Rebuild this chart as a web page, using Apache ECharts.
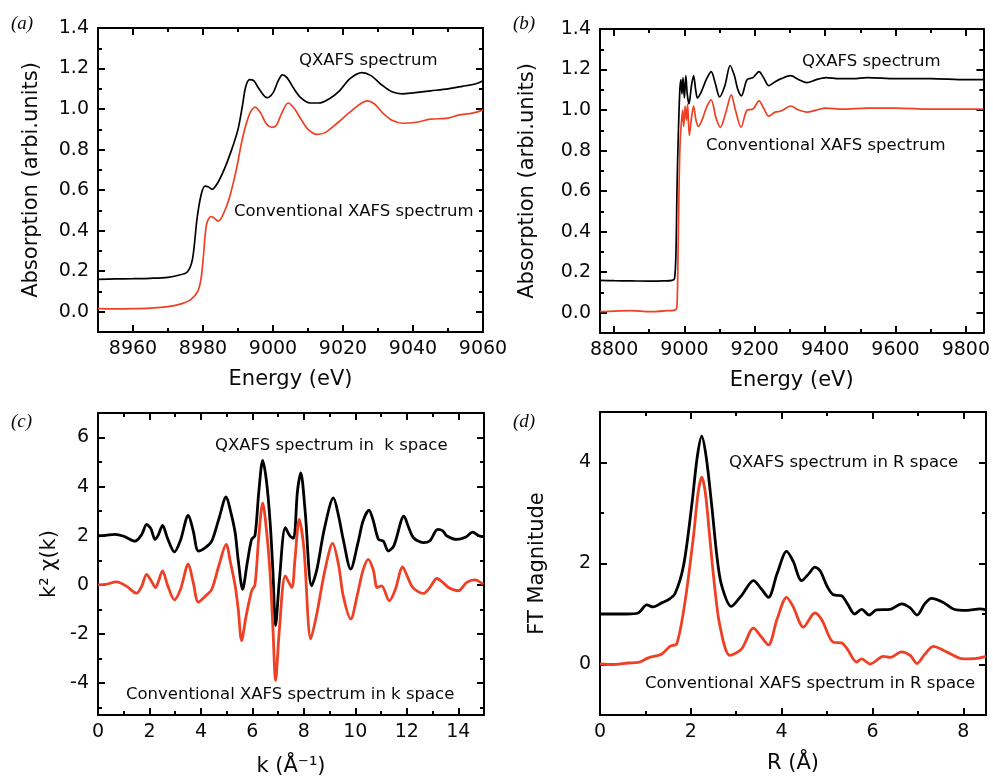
<!DOCTYPE html>
<html>
<head>
<meta charset="utf-8">
<script src="https://cdn.jsdelivr.net/npm/echarts@6/dist/echarts.min.js"></script>
<style>
  html, body { margin: 0; padding: 0; background: #fff; }
  #chart { width: 993px; height: 780px; }
</style>
</head>
<body>
<div id="chart"></div>
<script>
// ---- (a) XANES region: energy (eV) and normalised absorption ----
const aEnergyQ = [8950, 8955, 8960, 8965, 8970, 8973, 8975.5, 8977, 8978.3, 8979.5, 8980.6, 8981.6, 8982.6, 8984, 8986, 8988, 8990, 8991.3, 8992.2, 8993.3, 8994.5, 8996, 8998.3, 9000, 9001.5, 9002.7, 9004, 9006, 9008, 9010.6, 9013, 9016, 9019, 9022, 9025.4, 9028, 9031, 9034, 9037, 9040, 9045, 9050, 9055, 9058, 9060];
const aMuQ      = [0.160, 0.162, 0.163, 0.165, 0.170, 0.180, 0.196, 0.26, 0.46, 0.58, 0.62, 0.615, 0.604, 0.63, 0.70, 0.79, 0.90, 1.02, 1.11, 1.145, 1.14, 1.10, 1.056, 1.08, 1.14, 1.169, 1.155, 1.10, 1.055, 1.03, 1.03, 1.05, 1.09, 1.15, 1.18, 1.165, 1.12, 1.085, 1.075, 1.08, 1.09, 1.10, 1.115, 1.125, 1.14];
const aEnergyC = [8950, 8955, 8960, 8965, 8970, 8974, 8976.5, 8978.5, 8979.5, 8980.2, 8981, 8982.2, 8983, 8984.3, 8985.5, 8987.5, 8989.5, 8991.4, 8993.4, 8994.9, 8996.5, 8998, 8999.7, 9001, 9002.5, 9004.3, 9006, 9008, 9010, 9012.6, 9015, 9018.3, 9022, 9026.9, 9029, 9031.4, 9034, 9037.1, 9041, 9045, 9050, 9053, 9057, 9060];
const aMuC      = [0.015, 0.014, 0.015, 0.018, 0.025, 0.04, 0.06, 0.10, 0.17, 0.29, 0.43, 0.47, 0.465, 0.447, 0.47, 0.56, 0.70, 0.865, 0.98, 1.01, 0.98, 0.93, 0.91, 0.92, 0.98, 1.03, 1.005, 0.95, 0.90, 0.875, 0.885, 0.93, 0.985, 1.04, 1.025, 0.98, 0.945, 0.93, 0.935, 0.95, 0.955, 0.97, 0.98, 0.995];

// ---- (b) full XAFS range ----
const bEnergyQ = [8760, 8800, 8850, 8900, 8940, 8965, 8972, 8976, 8979, 8983, 8987, 8990, 8993, 8996, 9000, 9004, 9008, 9013, 9020, 9026, 9032, 9037, 9048, 9062, 9076, 9088, 9100, 9115, 9130, 9142, 9152, 9162, 9178, 9195, 9212, 9225, 9240, 9258, 9275, 9302, 9325, 9348, 9375, 9402, 9440, 9480, 9520, 9600, 9700, 9800, 9850];
const bMuQ      = [0.160, 0.158, 0.157, 0.156, 0.157, 0.160, 0.17, 0.30, 0.62, 0.90, 1.10, 1.15, 1.08, 1.16, 1.06, 1.17, 1.08, 1.03, 1.12, 1.17, 1.10, 1.06, 1.09, 1.15, 1.19, 1.13, 1.065, 1.12, 1.22, 1.17, 1.10, 1.07, 1.15, 1.16, 1.19, 1.16, 1.12, 1.14, 1.155, 1.17, 1.15, 1.135, 1.15, 1.16, 1.155, 1.155, 1.16, 1.155, 1.155, 1.15, 1.15];
const bEnergyC = [8760, 8800, 8850, 8900, 8950, 8975, 8979, 8982, 8985, 8988, 8992, 8995, 8998, 9002, 9006, 9009, 9014, 9020, 9026, 9033, 9040, 9050, 9062, 9076, 9090, 9102, 9118, 9133, 9145, 9161, 9178, 9195, 9212, 9225, 9240, 9258, 9275, 9302, 9325, 9348, 9375, 9402, 9450, 9520, 9600, 9700, 9800, 9850];
const bMuC      = [0.005, 0.008, 0.01, 0.005, 0.01, 0.015, 0.04, 0.30, 0.65, 0.85, 0.95, 1.0, 0.92, 1.02, 0.95, 1.03, 0.875, 0.96, 1.02, 0.95, 0.92, 0.95, 1.01, 1.05, 0.96, 0.915, 0.99, 1.075, 1.0, 0.915, 1.0, 1.005, 1.045, 1.01, 0.97, 0.99, 0.995, 1.02, 1.0, 0.99, 1.0, 1.01, 1.005, 1.01, 1.01, 1.005, 1.005, 1.005];

// ---- (c) k^2-weighted EXAFS oscillations ----
const cKQ  = [0, 0.3, 0.66, 1.0, 1.44, 1.7, 1.89, 2.05, 2.22, 2.35, 2.51, 2.7, 2.97, 3.2, 3.51, 3.7, 3.9, 4.16, 4.42, 4.7, 4.98, 5.15, 5.33, 5.45, 5.62, 5.8, 5.97, 6.1, 6.25, 6.4, 6.55, 6.69, 6.8, 6.9, 7.05, 7.28, 7.46, 7.6, 7.75, 7.88, 8.05, 8.3, 8.5, 8.8, 9.15, 9.35, 9.53, 9.82, 10.1, 10.3, 10.53, 10.7, 10.9, 11.09, 11.28, 11.5, 11.89, 12.05, 12.26, 12.64, 12.9, 13.2, 13.4, 13.55, 13.94, 14.3, 14.56, 14.8, 15.0];
const cChiQ = [2.0, 2.02, 2.06, 1.98, 1.78, 2.05, 2.46, 2.3, 1.85, 2.05, 2.42, 1.9, 1.34, 1.8, 2.83, 2.2, 1.38, 1.51, 1.78, 2.7, 3.58, 3.0, 2.12, 1.0, -0.18, 0.9, 1.85, 2.0, 3.8, 5.07, 4.2, 2.53, 0.5, -1.66, 0.2, 2.33, 1.99, 1.9, 3.8, 4.56, 3.0, -0.04, 0.6, 2.3, 3.54, 2.8, 1.85, 0.64, 1.7, 2.6, 3.04, 2.6, 1.85, 1.78, 1.38, 1.6, 2.8, 2.4, 1.92, 1.72, 1.8, 2.26, 2.2, 2.0, 1.85, 1.95, 2.15, 2.0, 1.95];
const cKC  = [0, 0.3, 0.72, 1.1, 1.5, 1.7, 1.89, 2.05, 2.24, 2.35, 2.51, 2.7, 2.97, 3.2, 3.51, 3.7, 3.9, 4.16, 4.42, 4.7, 4.98, 5.15, 5.33, 5.45, 5.58, 5.75, 5.97, 6.1, 6.25, 6.4, 6.55, 6.69, 6.8, 6.9, 7.05, 7.28, 7.53, 7.65, 7.82, 8.0, 8.27, 8.5, 8.8, 9.12, 9.35, 9.53, 9.82, 10.1, 10.3, 10.5, 10.7, 10.85, 11.02, 11.32, 11.55, 11.84, 12.0, 12.23, 12.64, 12.9, 13.17, 13.4, 13.62, 14.0, 14.33, 14.65, 14.97];
const cChiC = [0.0, 0.02, 0.12, -0.05, -0.34, -0.05, 0.43, 0.2, -0.11, 0.15, 0.57, 0.0, -0.61, -0.2, 0.84, 0.1, -0.7, -0.47, -0.18, 0.8, 1.65, 0.9, -0.04, -1.0, -2.27, -1.3, -0.24, 0.0, 2.0, 3.34, 2.2, 0.43, -1.8, -3.9, -1.8, 0.37, -0.11, 1.0, 2.67, 1.5, -2.2, -1.2, 0.5, 1.69, 0.8, -0.45, -1.39, -0.3, 0.6, 1.04, 0.6, -0.11, -0.04, -0.65, -0.2, 0.73, 0.4, -0.1, -0.35, -0.1, 0.26, 0.1, -0.11, -0.24, 0.1, 0.2, 0.02];

// ---- (d) Fourier-transform magnitude in R space ----
const dRQ  = [0.0, 0.3, 0.6, 0.84, 1.03, 1.17, 1.36, 1.5, 1.65, 1.84, 2.02, 2.14, 2.24, 2.34, 2.46, 2.58, 2.68, 2.89, 3.12, 3.38, 3.55, 3.71, 3.9, 4.11, 4.25, 4.44, 4.6, 4.73, 4.85, 5.0, 5.14, 5.32, 5.45, 5.61, 5.76, 5.93, 6.09, 6.39, 6.64, 6.83, 6.98, 7.15, 7.3, 7.56, 7.78, 8.08, 8.37, 8.5];
const dFTQ = [1.0, 1.0, 1.0, 1.02, 1.18, 1.14, 1.22, 1.28, 1.4, 1.96, 3.15, 4.1, 4.52, 4.1, 3.15, 2.1, 1.56, 1.15, 1.37, 1.66, 1.5, 1.33, 1.8, 2.24, 2.05, 1.66, 1.8, 1.93, 1.85, 1.55, 1.38, 1.36, 1.2, 1.0, 1.09, 0.98, 1.08, 1.09, 1.2, 1.12, 0.98, 1.2, 1.31, 1.23, 1.1, 1.07, 1.1, 1.08];
const dRC  = [0.0, 0.3, 0.62, 0.84, 1.06, 1.36, 1.54, 1.69, 1.87, 2.06, 2.16, 2.24, 2.32, 2.42, 2.53, 2.64, 2.86, 3.12, 3.38, 3.55, 3.71, 3.9, 4.11, 4.25, 4.48, 4.73, 4.88, 5.14, 5.32, 5.45, 5.65, 5.76, 5.95, 6.24, 6.39, 6.64, 6.83, 6.98, 7.15, 7.34, 7.63, 8.0, 8.3, 8.5];
const dFTC = [0.01, 0.0, 0.03, 0.04, 0.13, 0.21, 0.36, 0.41, 1.23, 2.55, 3.4, 3.71, 3.4, 2.49, 1.5, 0.77, 0.18, 0.31, 0.72, 0.55, 0.39, 0.9, 1.33, 1.15, 0.74, 1.02, 0.89, 0.44, 0.43, 0.3, 0.05, 0.11, 0.01, 0.16, 0.14, 0.25, 0.18, 0.02, 0.2, 0.36, 0.25, 0.11, 0.12, 0.16];

// ---- tick positions ----
const aXMajor = [8960, 8980, 9000, 9020, 9040, 9060];
const aXMinor = [8950, 8970, 8990, 9010, 9030, 9050];
const bXMajor = [8800, 9000, 9200, 9400, 9600, 9800];
const bXMinor = [8900, 9100, 9300, 9500, 9700];
const muMajor = [0, 0.2, 0.4, 0.6, 0.8, 1.0, 1.2, 1.4];
const muMinor = [-0.1, 0.1, 0.3, 0.5, 0.7, 0.9, 1.1, 1.3];
const cXMajor = [0, 2, 4, 6, 8, 10, 12, 14];
const cXMinor = [1, 3, 5, 7, 9, 11, 13, 15];
const cYMajor = [-4, -2, 0, 2, 4, 6];
const cYMinor = [-5, -3, -1, 1, 3, 5, 7];
const dXMajor = [0, 2, 4, 6, 8];
const dXMinor = [1, 3, 5, 7];
const dYMajor = [0, 2, 4];
const dYMinor = [-1, 1, 3, 5];

// ---- text ----
const labelQ_E  = 'QXAFS spectrum';
const labelC_E  = 'Conventional XAFS spectrum';
const labelQ_k  = 'QXAFS spectrum in  k space';
const labelC_k  = 'Conventional XAFS spectrum in k space';
const labelQ_R  = 'QXAFS spectrum in R space';
const labelC_R  = 'Conventional XAFS spectrum in R space';

const BLACK = '#000000';
const RED = '#ee4024';
const FONT = 'DejaVu Sans';
const INK = '#0a0a0a';

function zip(xs, ys) { return xs.map((x, i) => [x, ys[i]]); }

const grids = [
  { left: 98,  top: 28,  width: 385, height: 304 },
  { left: 600, top: 29,  width: 385, height: 304 },
  { left: 98,  top: 413, width: 386, height: 302 },
  { left: 600, top: 412, width: 386, height: 303 }
];

const xAxes = [];
const yAxes = [];

// Builds one axis: the major layer carries the frame line, labels and long ticks;
// the minor layer only carries short inward ticks.
function makeAxis(grid, pos, a, primary, major) {
  const isY = pos === 'left' || pos === 'right';
  const ax = {
    type: 'value',
    gridIndex: grid,
    position: pos,
    min: a.min,
    max: a.max,
    axisLine: { show: major, onZero: false, lineStyle: { color: '#000', width: 2 } },
    axisTick: {
      show: true, inside: true, length: major ? 7 : 4,
      lineStyle: { color: '#000', width: 2 },
      customValues: major ? a.major : a.minor
    },
    axisLabel: {
      show: primary, customValues: a.major,
      formatter: a.fmt || (v => String(v)),
      margin: isY ? 9 : 8,
      fontFamily: FONT, fontSize: 19, color: INK
    },
    splitLine: { show: false },
    silent: true
  };
  if (primary && a.name) {
    ax.name = a.name;
    ax.nameLocation = 'middle';
    ax.nameGap = a.nameGap;
    ax.nameTextStyle = Object.assign({ fontFamily: FONT, fontSize: 21, color: INK }, a.nameStyle || {});
  }
  return ax;
}

function addPanel(grid, xa, ya) {
  const xi = xAxes.length, yi = yAxes.length;
  xAxes.push(makeAxis(grid, 'bottom', xa, true, true));
  xAxes.push(makeAxis(grid, 'bottom', xa, false, false));
  xAxes.push(makeAxis(grid, 'top', xa, false, true));
  xAxes.push(makeAxis(grid, 'top', xa, false, false));
  yAxes.push(makeAxis(grid, 'left', ya, true, true));
  yAxes.push(makeAxis(grid, 'left', ya, false, false));
  yAxes.push(makeAxis(grid, 'right', ya, false, true));
  yAxes.push(makeAxis(grid, 'right', ya, false, false));
  return { xi, yi };
}

const fix1 = v => v.toFixed(1);

const pa = addPanel(0,
  { min: 8950, max: 9060, major: aXMajor, minor: aXMinor, name: 'Energy (eV)', nameGap: 37 },
  { min: -0.1, max: 1.4, major: muMajor, minor: muMinor, fmt: fix1, name: 'Absorption (arbi.units)', nameGap: 56 });
const pb = addPanel(1,
  { min: 8760, max: 9850, major: bXMajor, minor: bXMinor, name: 'Energy (eV)', nameGap: 37 },
  { min: -0.1, max: 1.4, major: muMajor, minor: muMinor, fmt: fix1, name: 'Absorption (arbi.units)', nameGap: 62 });
const pc = addPanel(2,
  { min: 0, max: 15, major: cXMajor, minor: cXMinor, name: 'k (Å⁻¹)', nameGap: 41 },
  { min: -5.3, max: 7, major: cYMajor, minor: cYMinor, name: 'k² χ(k)', nameGap: 38 });
const pd = addPanel(3,
  { min: 0, max: 8.5, major: dXMajor, minor: dXMinor, name: 'R (Å)', nameGap: 38 },
  { min: -1, max: 5, major: dYMajor, minor: dYMinor, name: 'FT Magnitude', nameGap: 52 });

function line(p, xs, ys, color, width) {
  return {
    type: 'line', xAxisIndex: p.xi, yAxisIndex: p.yi,
    data: zip(xs, ys), showSymbol: false, smooth: 0.3,
    lineStyle: { color, width }, silent: true, animation: false, z: 3
  };
}

const series = [
  line(pa, aEnergyQ, aMuQ, BLACK, 1.7),
  line(pa, aEnergyC, aMuC, RED, 1.7),
  line(pb, bEnergyQ, bMuQ, BLACK, 1.7),
  line(pb, bEnergyC, bMuC, RED, 1.7),
  line(pc, cKQ, cChiQ, BLACK, 2.8),
  line(pc, cKC, cChiC, RED, 2.8),
  line(pd, dRQ, dFTQ, BLACK, 2.8),
  line(pd, dRC, dFTC, RED, 2.8)
];

function note(text, left, top) {
  return { type: 'text', left, top, silent: true,
    style: { text, fontFamily: FONT, fontSize: 16.5, fill: INK } };
}
function tag(text, left, top) {
  return { type: 'text', left, top, silent: true,
    style: { text, fontFamily: 'Liberation Serif', fontSize: 19, fontStyle: 'italic', fill: INK } };
}

const graphic = [
  tag('(a)', 11, 14), tag('(b)', 513, 14), tag('(c)', 11, 412), tag('(d)', 513, 412),
  note(labelQ_E, 299, 52), note(labelC_E, 234, 203),
  note(labelQ_E, 802, 53), note(labelC_E, 706, 137),
  note(labelQ_k, 215, 437), note(labelC_k, 126, 686),
  note(labelQ_R, 729, 454), note(labelC_R, 645, 675)
];

const chart = echarts.init(document.getElementById('chart'), null, { renderer: 'canvas' });
chart.setOption({
  animation: false,
  backgroundColor: '#fff',
  grid: grids,
  xAxis: xAxes,
  yAxis: yAxes,
  series,
  graphic
});
</script>
</body>
</html>
